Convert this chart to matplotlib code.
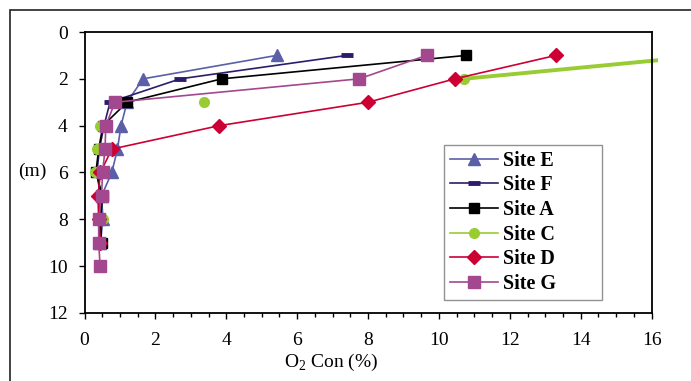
import matplotlib.pyplot as plt
from matplotlib.lines import Line2D
from matplotlib.patches import Rectangle
from matplotlib.ticker import MultipleLocator

plt.rcParams['font.family'] = 'Liberation Serif'
plt.rcParams['mathtext.fontset'] = 'custom'
plt.rcParams['mathtext.rm'] = 'Liberation Serif'

# depth (m) and O2 concentration (%) per site
depth = [1, 2, 3, 4, 5, 6, 7, 8, 9]
depth_g = [1, 2, 3, 4, 5, 6, 7, 8, 9, 10]
site_e = [5.42, 1.65, 1.2, 1.03, 0.93, 0.77, 0.48, 0.52, 0.45]
site_f = [7.4, 2.7, 0.72, 0.55, 0.42, 0.35, 0.45, 0.42, 0.45]
site_a = [10.77, 3.87, 1.2, 0.52, 0.4, 0.32, 0.51, 0.45, 0.48]
site_c = [17.6, 10.7, 3.37, 0.45, 0.35, 0.3, 0.4, 0.52, 0.45]
site_d = [13.3, 10.45, 8.0, 3.8, 0.77, 0.45, 0.38, 0.4, 0.45]
site_g = [9.65, 7.75, 0.86, 0.6, 0.58, 0.51, 0.48, 0.4, 0.4, 0.44]

fig = plt.figure(figsize=(6.91, 3.81), dpi=100)
ax = fig.add_axes([0.1223, 0.1785, 0.8206, 0.7375])

# outer frame of the figure
fig.patches.append(Rectangle((0.0145, -0.2), 1.2, 1.174, transform=fig.transFigure,
                             fill=False, edgecolor='#222222', lw=1.2))

lw = 1.2
le, = ax.plot(site_e, depth, color='#5A5FA8', lw=lw, marker='^', ms=9, label='Site E')
lf, = ax.plot(site_f, depth, color='#2D1B6B', lw=lw, marker='_', ms=9, mew=3.5, label='Site F')
la, = ax.plot(site_a, depth, color='black', lw=lw, marker='s', ms=7.5, label='Site A')
ax.plot(site_c, depth, color='#99CC33', ls='none', marker='o', ms=7)
seg, = ax.plot(site_c[:2], depth[:2], color='#99CC33', lw=2.8, clip_on=True)
seg.set_clip_path(Rectangle((0, 0), 1.012, 1, transform=ax.transAxes))
ld, = ax.plot(site_d, depth, color='#CC0033', lw=lw, marker='D', ms=7.5, label='Site D')
lg, = ax.plot(site_g, depth_g, color='#A3478F', lw=lw, marker='s', ms=8, label='Site G')
lc = Line2D([], [], color='#99CC33', lw=lw, marker='o', ms=7, label='Site C')

ax.set_xlim(0, 16)
ax.set_ylim(12, 0)
ax.xaxis.set_major_locator(MultipleLocator(2))
ax.xaxis.set_minor_locator(MultipleLocator(0.5))
ax.yaxis.set_major_locator(MultipleLocator(2))
ax.tick_params(axis='both', which='major', direction='out', length=4, width=1,
               labelsize=14)
ax.tick_params(axis='x', which='major', pad=10)
ax.tick_params(axis='y', which='major', pad=8)
ax.tick_params(axis='x', which='minor', direction='out', length=3, width=1)
for s in ax.spines.values():
    s.set_linewidth(1.3)

ax.set_xlabel('O$_2$ Con (%)', fontsize=14)
ax.xaxis.set_label_coords(0.435, -0.14)
ax.set_ylabel('(m)', fontsize=14, rotation=0, va='center')
ax.yaxis.set_label_coords(-0.092, 0.505)

leg = ax.legend(handles=[le, lf, la, lc, ld, lg], loc='lower left',
                bbox_to_anchor=(0.634, 0.046, 0.279, 0.545), mode='expand',
                prop={'weight': 'bold', 'size': 14.5}, frameon=True, fancybox=False,
                edgecolor='#777777', handlelength=2.4, handletextpad=0.25,
                labelspacing=0.23, borderaxespad=0, borderpad=0.3)
leg.get_frame().set_linewidth(1)

fig.savefig('out.png', dpi=100)
